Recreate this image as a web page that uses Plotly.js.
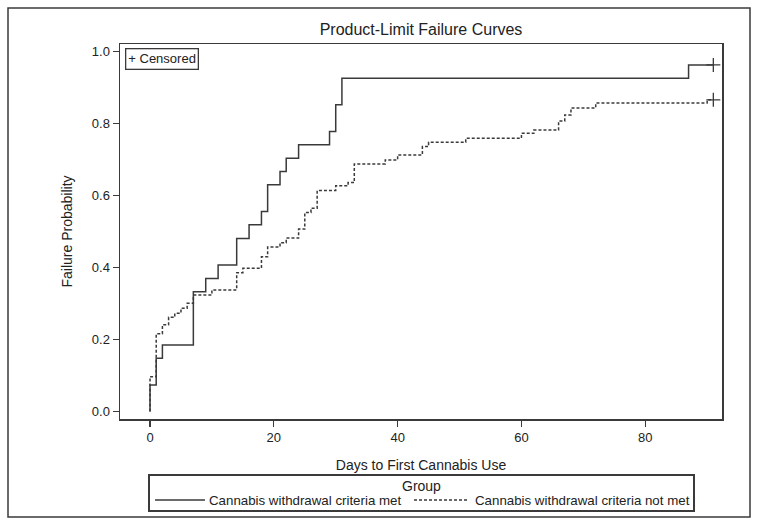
<!DOCTYPE html>
<html>
<head>
<meta charset="utf-8">
<script src="https://cdn.plot.ly/plotly-3.0.1.min.js"></script>
<style>html,body{margin:0;padding:0;background:#fff;} #chart{width:758px;height:523px;}</style>
</head>
<body>
<div id="chart"></div>
<script>
// Group: Cannabis withdrawal criteria met (solid)
const metDays = [0, 0, 1, 2, 7, 9, 11, 14, 16, 18, 19, 21, 22, 24, 29, 30, 31, 87, 91];
const metProb = [0, 0.074, 0.148, 0.185, 0.333, 0.370, 0.407, 0.481, 0.519, 0.556, 0.630, 0.667, 0.704, 0.741, 0.778, 0.852, 0.926, 0.963, 0.963];
// Group: Cannabis withdrawal criteria not met (dashed)
const notMetDays = [0, 0, 1, 2, 3, 4, 5, 6, 7, 10, 14, 15, 18, 19, 21, 22, 24, 25, 26, 27, 30, 32, 33, 38, 40, 44, 45, 51, 60, 62, 66, 67, 68, 72, 90, 91];
const notMetProb = [0, 0.097, 0.216, 0.241, 0.262, 0.273, 0.287, 0.301, 0.324, 0.338, 0.386, 0.398, 0.430, 0.457, 0.469, 0.482, 0.507, 0.553, 0.565, 0.614, 0.627, 0.636, 0.688, 0.699, 0.713, 0.736, 0.748, 0.759, 0.773, 0.782, 0.807, 0.824, 0.843, 0.857, 0.866, 0.866];
// Censored observations
const censorDays = [91, 91];
const censorProb = [0.963, 0.866];
const xTicks = [0, 20, 40, 60, 80];
const yTicks = [0.0, 0.2, 0.4, 0.6, 0.8, 1.0];
const groupNames = ['Cannabis withdrawal criteria met', 'Cannabis withdrawal criteria not met'];

const ink = '#3a3a3a';
const font = 'Liberation Sans, Arial, sans-serif';
const dashPattern = '3px,2px';

const traces = [
  {x: metDays, y: metProb, mode: 'lines', line: {shape: 'hv', color: ink, width: 1.5, dash: 'solid'}, name: groupNames[0]},
  {x: notMetDays, y: notMetProb, mode: 'lines', line: {shape: 'hv', color: ink, width: 1.5, dash: dashPattern}, name: groupNames[1]},
  {x: censorDays, y: censorProb, mode: 'markers', marker: {symbol: 'cross-thin-open', size: 10, color: ink, line: {color: ink, width: 1.3}}, name: 'Censored', hoverinfo: 'skip'}
];

const L = 120, R = 722, T = 44, B = 419;
const px2x = p => (p - L) / (R - L);
const px2y = p => (B - p) / (B - T);

// legend geometry (pixel positions of the legend block)
const legBox = {x0: 149, x1: 694, y0: 475, y1: 511};
const itemY = 500;

const layout = {
  width: 758, height: 523,
  margin: {l: L, r: 758 - R, t: T, b: 523 - B, autoexpand: false},
  paper_bgcolor: '#fff', plot_bgcolor: '#fff',
  font: {family: font, color: '#222', size: 13},
  showlegend: false,
  title: {text: 'Product-Limit Failure Curves', font: {size: 16, family: font, color: '#222'}, x: 0.5, xref: 'paper', xanchor: 'center', y: 1 - 29 / 523, yanchor: 'middle'},
  xaxis: {
    range: [-4.85, 92.4], tickvals: xTicks, ticks: 'outside', ticklen: 6, tickcolor: ink, tickwidth: 1.3,
    showline: true, linecolor: ink, linewidth: 1.5, mirror: true, showgrid: false, zeroline: false,
    tickfont: {size: 13}, title: {text: 'Days to First Cannabis Use', font: {size: 14}, standoff: 16}
  },
  yaxis: {
    range: [-0.0205, 1.021], tickvals: yTicks, tickformat: '.1f', ticks: 'outside', ticklen: 6, tickcolor: ink, tickwidth: 1.3,
    showline: true, linecolor: ink, linewidth: 1.5, mirror: true, showgrid: false, zeroline: false,
    tickfont: {size: 13}, title: {text: 'Failure Probability', font: {size: 14}, standoff: 16}
  },
  annotations: [
    {xref: 'paper', yref: 'paper', x: px2x(125), y: px2y(48), xanchor: 'left', yanchor: 'top', text: '+ Censored', showarrow: false,
     bordercolor: ink, borderwidth: 1.3, borderpad: 2, font: {size: 13}},
    {xref: 'paper', yref: 'paper', x: px2x((legBox.x0 + legBox.x1) / 2), y: px2y(486), xanchor: 'center', yanchor: 'middle', text: 'Group', showarrow: false, font: {size: 14}},
    {xref: 'paper', yref: 'paper', x: px2x(207), y: px2y(itemY), xanchor: 'left', yanchor: 'middle', text: groupNames[0], showarrow: false, font: {size: 13.3}},
    {xref: 'paper', yref: 'paper', x: px2x(473), y: px2y(itemY), xanchor: 'left', yanchor: 'middle', text: groupNames[1], showarrow: false, font: {size: 13.3}}
  ],
  shapes: [
    {type: 'rect', xref: 'paper', yref: 'paper', x0: px2x(8), x1: px2x(750), y0: px2y(517), y1: px2y(8), line: {color: ink, width: 1.5}},
    {type: 'rect', xref: 'paper', yref: 'paper', x0: px2x(legBox.x0), x1: px2x(legBox.x1), y0: px2y(legBox.y1), y1: px2y(legBox.y0), line: {color: ink, width: 2}, fillcolor: '#fff'},
    {type: 'line', xref: 'paper', yref: 'paper', x0: px2x(155), x1: px2x(205), y0: px2y(itemY), y1: px2y(itemY), line: {color: ink, width: 1.5}},
    {type: 'line', xref: 'paper', yref: 'paper', x0: px2x(414), x1: px2x(467), y0: px2y(itemY), y1: px2y(itemY), line: {color: ink, width: 1.5, dash: dashPattern}}
  ]
};

Plotly.newPlot('chart', traces, layout, {displayModeBar: false, staticPlot: true});
</script>
</body>
</html>
